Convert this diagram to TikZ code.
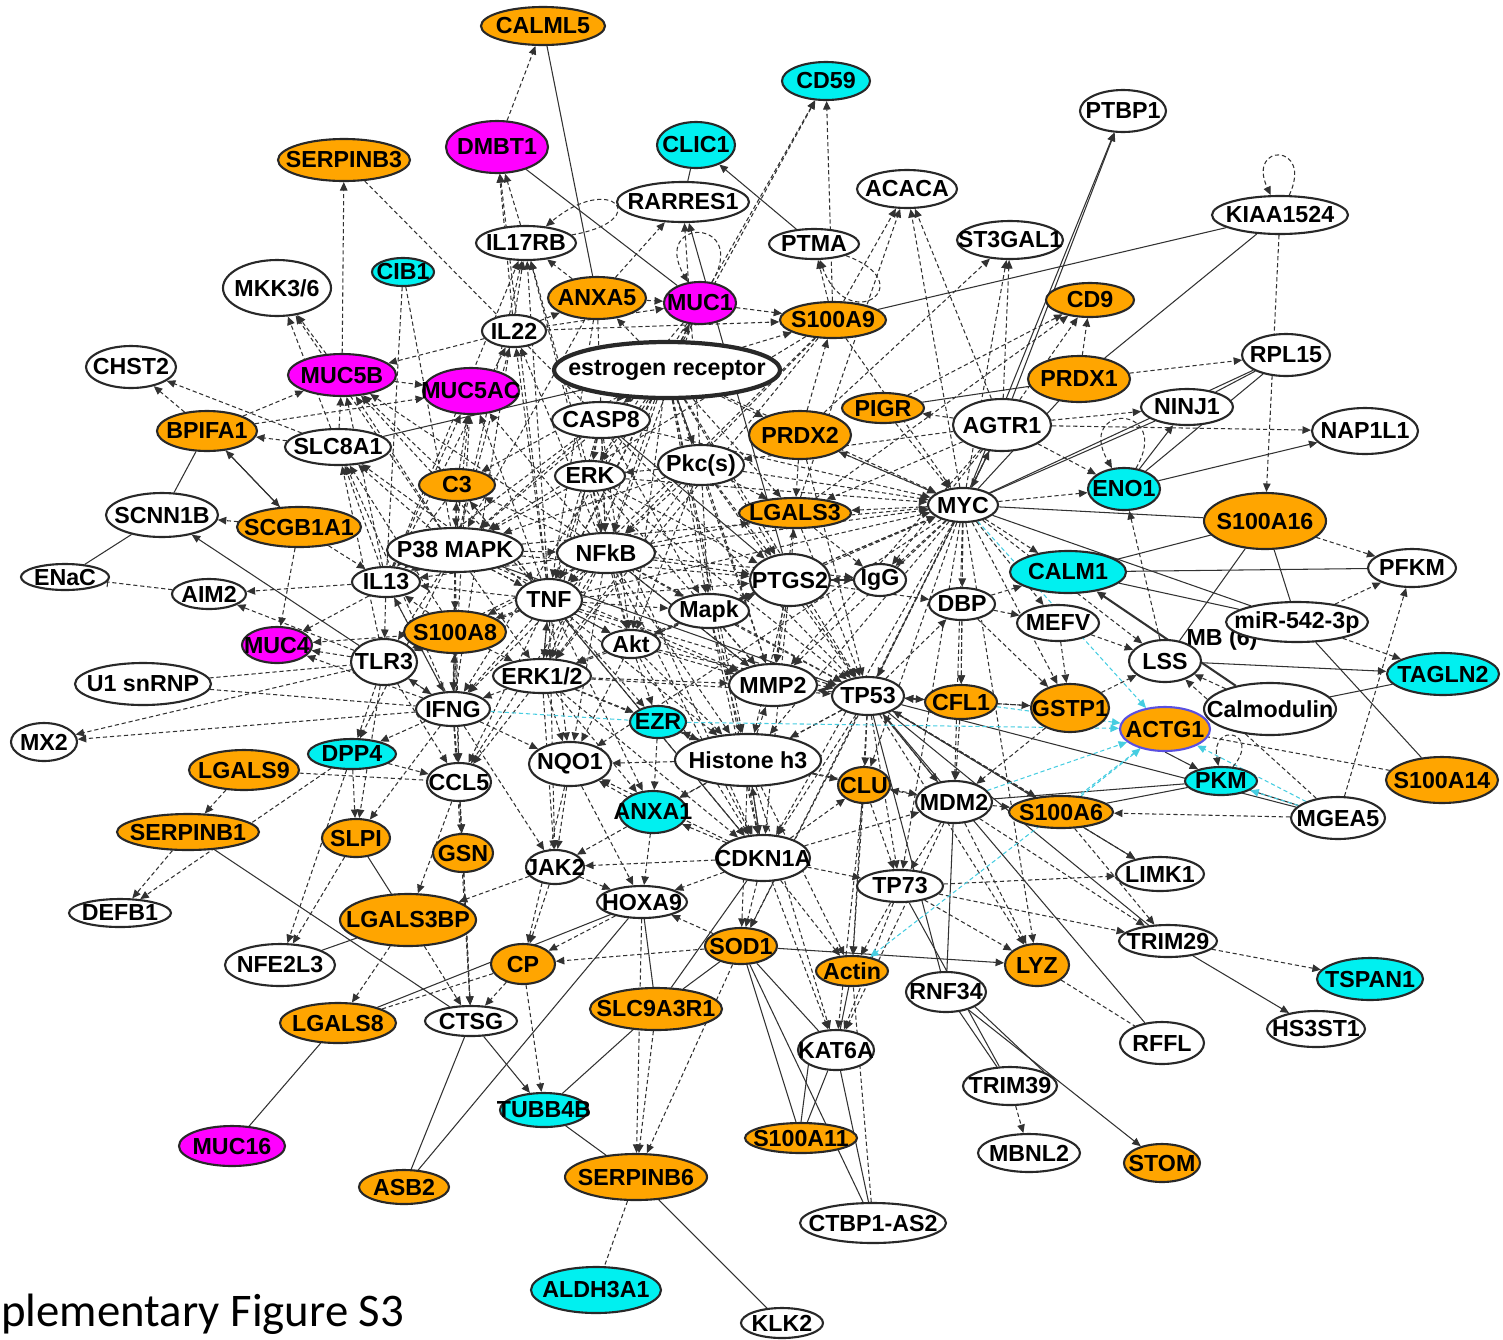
\documentclass[tikz,border=0pt]{standalone}
\usepackage{fontspec}
\setmainfont{Liberation Sans}
\newfontfamily\capfont{Carlito}
\usetikzlibrary{
  arrows.meta,
  shapes.geometric
}
\definecolor{geneorange}{RGB}{255,165,0}
\definecolor{genemagenta}{RGB}{255,0,255}
\definecolor{genecyan}{RGB}{0,240,240}
\definecolor{geneline}{RGB}{40,40,40}
\definecolor{linkgray}{RGB}{50,50,50}
\definecolor{linkcyan}{RGB}{70,205,225}
\definecolor{actgblue}{RGB}{90,80,225}
\newcommand\genefont{\bfseries\fontsize{6.6}{7.5}\selectfont}
\pgfdeclarelayer{background}
\pgfsetlayers{background,main}
\tikzset{
  gene/.style={
    ellipse,
    draw=geneline,
    line width=0.6pt,
    inner xsep=-6pt,
    inner ysep=-1pt,
    font=\genefont
  },
  geneWhite/.style={gene, fill=white},
  geneOrange/.style={gene, fill=geneorange},
  geneMagenta/.style={gene, fill=genemagenta},
  geneCyan/.style={gene, fill=genecyan},
  sz/.style 2 args={
    minimum width=#1*0.01cm,
    minimum height=#2*0.01cm
  },
  linkDash/.style={
    -{Triangle[length=0.85mm,width=0.75mm]},
    draw=linkgray,
    line width=0.3pt,
    dash pattern=on 1.2pt off 0.8pt
  },
  linkArrow/.style={
    -{Triangle[length=0.85mm,width=0.75mm]},
    draw=linkgray,
    line width=0.3pt
  },
  linkLine/.style={draw=linkgray, line width=0.3pt},
  linkDashLine/.style={
    draw=linkgray,
    line width=0.3pt,
    dash pattern=on 1.2pt off 0.8pt
  },
  linkCyan/.style={linkDash, draw=linkcyan}
}

\begin{document}
\begin{tikzpicture}[x=0.01cm, y=-0.01cm]
  \useasboundingbox (0,0) rectangle (1503,1339);

  % genes
  \node[geneOrange, sz={124}{38}] (calml5) at (543,26) {CALML5};
  \node[geneCyan, sz={88}{38}] (cd59) at (826,81) {CD59};
  \node[geneMagenta, sz={102}{52}] (dmbt1) at (497,147) {DMBT1};
  \node[geneCyan, sz={78}{46}] (clic1) at (696,145) {CLIC1};
  \node[geneOrange, sz={132}{42}] (serpinb3) at (344,160) {SERPINB3};
  \node[geneWhite, sz={86}{42}] (ptbp1) at (1123,111) {PTBP1};
  \node[geneWhite, sz={132}{40}] (rarres1) at (683,202) {RARRES1};
  \node[geneWhite, sz={100}{38}] (acaca) at (907,189) {ACACA};
  \node[geneWhite, sz={136}{38}] (kiaa) at (1280,215) {KIAA1524};
  \node[geneWhite, sz={100}{34}] (il17rb) at (526,243) {IL17RB};
  \node[geneWhite, sz={90}{30}] (ptma) at (814,244) {PTMA};
  \node[geneWhite, sz={106}{38}] (st3gal1) at (1010,240) {ST3GAL1};
  \node[geneCyan, sz={62}{28}] (cib1) at (403,272) {CIB1};
  \node[geneWhite, sz={108}{56}] (mkk) at (277,288) {MKK3/6};
  \node[geneOrange, sz={98}{42}] (anxa5) at (597,298) {ANXA5};
  \node[geneMagenta, sz={72}{42}] (muc1) at (700,303) {MUC1};
  \node[geneOrange, sz={88}{34}] (cd9) at (1090,300) {CD9};
  \node[geneOrange, sz={106}{36}] (s100a9) at (833,320) {S100A9};
  \node[geneWhite, sz={64}{32}] (il22) at (514,331) {IL22};
  \node[geneWhite, sz={90}{42}] (chst2) at (131,367) {CHST2};
  \node[geneMagenta, sz={108}{42}] (muc5b) at (342,375) {MUC5B};
  \node[geneWhite, sz={226}{56}, line width=1.2pt] (er) at (667,370) {estrogen receptor};
  \node[geneMagenta, sz={96}{46}] (muc5ac) at (471,391) {MUC5AC};
  \node[geneOrange, sz={102}{46}] (prdx1) at (1079,379) {PRDX1};
  \node[geneWhite, sz={88}{42}] (rpl15) at (1286,355) {RPL15};
  \node[geneOrange, sz={100}{40}] (bpifa1) at (207,431) {BPIFA1};
  \node[geneWhite, sz={106}{36}] (slc8a1) at (338,447) {SLC8A1};
  \node[geneWhite, sz={98}{36}] (casp8) at (601,420) {CASP8};
  \node[geneOrange, sz={82}{30}] (pigr) at (883,408) {PIGR};
  \node[geneOrange, sz={102}{48}] (prdx2) at (800,435) {PRDX2};
  \node[geneWhite, sz={98}{52}] (agtr1) at (1002,425) {AGTR1};
  \node[geneWhite, sz={92}{36}] (ninj1) at (1187,407) {NINJ1};
  \node[geneWhite, sz={106}{46}] (nap1l1) at (1365,431) {NAP1L1};
  \node[geneWhite, sz={70}{30}] (erk) at (590,476) {ERK};
  \node[geneWhite, sz={86}{40}] (pkcs) at (701,465) {Pkc(s)};
  \node[geneOrange, sz={76}{32}] (c3) at (457,485) {C3};
  \node[geneWhite, sz={112}{44}] (scnn1b) at (162,515) {SCNN1B};
  \node[geneOrange, sz={124}{40}] (scgb1a1) at (299,527) {SCGB1A1};
  \node[geneOrange, sz={112}{30}] (lgals3) at (795,513) {LGALS3};
  \node[geneWhite, sz={70}{34}] (myc) at (963,505) {MYC};
  \node[geneCyan, sz={72}{42}] (eno1) at (1124,489) {ENO1};
  \node[geneOrange, sz={122}{56}] (s100a16) at (1265,521) {S100A16};
  \node[geneWhite, sz={136}{44}] (p38) at (455,550) {P38 MAPK};
  \node[geneWhite, sz={98}{40}] (nfkb) at (606,553) {NFkB};
  \node[geneWhite, sz={88}{26}] (enac) at (65,577) {ENaC};
  \node[geneWhite, sz={74}{30}] (aim2) at (209,594) {AIM2};
  \node[geneWhite, sz={68}{30}] (il13) at (386,582) {IL13};
  \node[geneWhite, sz={66}{42}] (tnf) at (549,600) {TNF};
  \node[geneWhite, sz={80}{52}] (ptgs2) at (790,580) {PTGS2};
  \node[geneWhite, sz={52}{32}] (igg) at (880,580) {IgG};
  \node[geneCyan, sz={116}{42}] (calm1) at (1068,572) {CALM1};
  \node[geneWhite, sz={88}{38}] (pfkm) at (1412,568) {PFKM};
  \node[geneWhite, sz={66}{32}] (dbp) at (962,604) {DBP};
  \node[geneWhite, sz={80}{34}] (mapk) at (709,611) {Mapk};
  \node[geneOrange, sz={102}{42}] (s100a8) at (455,632) {S100A8};
  \node[geneMagenta, sz={70}{36}] (muc4) at (277,645) {MUC4};
  \node[geneWhite, sz={82}{36}] (mefv) at (1058,623) {MEFV};
  \node[font=\genefont] (mb) at (1222,639) {MB (6)};
  \node[geneWhite, sz={142}{40}] (mir) at (1297,622) {miR-542-3p};
  \node[geneWhite, sz={58}{28}] (akt) at (631,644) {Akt};
  \node[geneWhite, sz={66}{46}] (tlr3) at (384,662) {TLR3};
  \node[geneWhite, sz={136}{42}] (u1) at (143,684) {U1 snRNP};
  \node[geneWhite, sz={72}{42}] (lss) at (1165,661) {LSS};
  \node[geneCyan, sz={112}{42}] (tagln2) at (1443,674) {TAGLN2};
  \node[geneWhite, sz={98}{34}] (erk12) at (542,676) {ERK1/2};
  \node[geneWhite, sz={88}{42}] (mmp2) at (773,685) {MMP2};
  \node[geneWhite, sz={72}{38}] (tp53) at (868,696) {TP53};
  \node[geneOrange, sz={72}{34}] (cfl1) at (961,702) {CFL1};
  \node[geneOrange, sz={78}{48}] (gstp1) at (1070,708) {GSTP1};
  \node[geneWhite, sz={132}{52}] (calmod) at (1270,709) {Calmodulin};
  \node[geneWhite, sz={74}{34}] (ifng) at (453,709) {IFNG};
  \node[geneCyan, sz={56}{32}] (ezr) at (658,722) {EZR};
  \node[geneOrange, sz={90}{44}, draw=actgblue] (actg1) at (1165,729) {ACTG1};
  \node[geneWhite, sz={66}{38}] (mx2) at (44,742) {MX2};
  \node[geneCyan, sz={88}{30}] (dpp4) at (352,754) {DPP4};
  \node[geneWhite, sz={146}{52}] (histone) at (748,760) {Histone h3};
  \node[geneOrange, sz={110}{40}] (lgals9) at (244,770) {LGALS9};
  \node[geneWhite, sz={64}{38}] (ccl5) at (459,782) {CCL5};
  \node[geneWhite, sz={82}{44}] (nqo1) at (570,764) {NQO1};
  \node[geneOrange, sz={52}{36}] (clu) at (864,785) {CLU};
  \node[geneCyan, sz={72}{28}] (pkm) at (1221,781) {PKM};
  \node[geneOrange, sz={112}{46}] (s100a14) at (1442,780) {S100A14};
  \node[geneWhite, sz={76}{42}] (mdm2) at (954,802) {MDM2};
  \node[geneOrange, sz={104}{32}] (s100a6) at (1061,812) {S100A6};
  \node[geneWhite, sz={94}{42}] (mgea5) at (1338,818) {MGEA5};
  \node[geneOrange, sz={142}{36}] (serpinb1) at (188,832) {SERPINB1};
  \node[geneOrange, sz={68}{38}] (slpi) at (356,838) {SLPI};
  \node[geneCyan, sz={68}{42}] (anxa1) at (653,812) {ANXA1};
  \node[geneOrange, sz={60}{38}] (gsn) at (463,853) {GSN};
  \node[geneWhite, sz={58}{34}] (jak2) at (555,867) {JAK2};
  \node[geneWhite, sz={94}{46}] (cdkn1a) at (763,858) {CDKN1A};
  \node[geneWhite, sz={88}{34}] (limk1) at (1160,874) {LIMK1};
  \node[geneWhite, sz={86}{32}] (tp73) at (900,886) {TP73};
  \node[geneWhite, sz={102}{28}] (defb1) at (120,913) {DEFB1};
  \node[geneWhite, sz={90}{32}] (hoxa9) at (642,902) {HOXA9};
  \node[geneOrange, sz={136}{52}] (lgals3bp) at (408,920) {LGALS3BP};
  \node[geneWhite, sz={98}{32}] (trim29) at (1168,941) {TRIM29};
  \node[geneCyan, sz={106}{42}] (tspan1) at (1370,979) {TSPAN1};
  \node[geneWhite, sz={110}{42}] (nfe2l3) at (280,965) {NFE2L3};
  \node[geneOrange, sz={64}{40}] (cp) at (523,964) {CP};
  \node[geneOrange, sz={72}{36}] (sod1) at (741,946) {SOD1};
  \node[geneOrange, sz={72}{30}] (actin) at (852,971) {Actin};
  \node[geneOrange, sz={64}{42}] (lyz) at (1037,965) {LYZ};
  \node[geneWhite, sz={80}{40}] (rnf34) at (946,992) {RNF34};
  \node[geneWhite, sz={84}{42}] (rffl) at (1162,1043) {RFFL};
  \node[geneWhite, sz={98}{36}] (hs3st1) at (1316,1029) {HS3ST1};
  \node[geneOrange, sz={116}{40}] (lgals8) at (338,1023) {LGALS8};
  \node[geneWhite, sz={92}{30}] (ctsg) at (471,1021) {CTSG};
  \node[geneOrange, sz={132}{42}] (slc9a3r1) at (656,1009) {SLC9A3R1};
  \node[geneWhite, sz={76}{40}] (kat6a) at (836,1050) {KAT6A};
  \node[geneWhite, sz={94}{38}] (trim39) at (1010,1086) {TRIM39};
  \node[geneCyan, sz={88}{34}] (tubb4b) at (544,1110) {TUBB4B};
  \node[geneMagenta, sz={106}{40}] (muc16) at (232,1146) {MUC16};
  \node[geneOrange, sz={112}{30}] (s100a11) at (801,1138) {S100A11};
  \node[geneWhite, sz={102}{38}] (mbnl2) at (1029,1153) {MBNL2};
  \node[geneOrange, sz={76}{38}] (stom) at (1162,1163) {STOM};
  \node[geneOrange, sz={90}{34}] (asb2) at (404,1187) {ASB2};
  \node[geneOrange, sz={142}{46}] (serpinb6) at (636,1177) {SERPINB6};
  \node[geneWhite, sz={146}{40}] (ctbp1) at (873,1223) {CTBP1-AS2};
  \node[geneCyan, sz={130}{46}] (aldh3a1) at (596,1290) {ALDH3A1};
  \node[geneWhite, sz={82}{30}] (klk2) at (782,1323) {KLK2};

  \node[font=\capfont\fontsize{13.3}{16}\selectfont, anchor=base west] (caption) at (-11,1326) {plementary Figure S3};

  \begin{pgfonlayer}{background}
  % outer links
  \foreach \a/\b in {dmbt1/calml5, il17rb/dmbt1, il22/dmbt1, tnf/dmbt1, muc5b/serpinb3,
      anxa5/rarres1, pkcs/rarres1, muc1/cd59, s100a9/cd59, er/cd59, s100a9/ptma,
      s100a9/acaca, myc/acaca, agtr1/acaca, lgals3/acaca, agtr1/st3gal1, myc/st3gal1,
      prdx2/st3gal1, kiaa/s100a16, prdx1/cd9, agtr1/cd9, pigr/cd9, lgals3/cd9,
      prdx1/rpl15, agtr1/ninj1, agtr1/nap1l1, agtr1/pigr, prdx2/s100a9, il22/s100a9,
      muc1/s100a9, il22/anxa5, il22/muc1, anxa5/muc1, er/muc1, er/anxa5, tnf/il22,
      nfkb/il22, p38/il22, il13/il22, il22/muc5b, ifng/il17rb, tnf/il17rb, nfkb/il17rb,
      p38/il17rb, il13/il17rb, erk/il17rb, p38/mkk, slc8a1/mkk, muc5b/mkk, anxa5/il17rb}
    \draw[linkDash] (\a) -- (\b);
  \foreach \a/\b in {bpifa1/chst2, slc8a1/chst2, bpifa1/muc5b, bpifa1/muc5ac,
      slc8a1/bpifa1, scgb1a1/scnn1b, il13/aim2, tlr3/aim2, tlr3/muc4, s100a8/muc4,
      ifng/muc4, p38/muc4, scgb1a1/muc4, ifng/mx2, tlr3/mx2, scgb1a1/il13, p38/muc5b,
      il13/muc5b, tnf/muc5b, nfkb/muc5b, slc8a1/muc5b, c3/muc5b, p38/muc5ac,
      il13/muc5ac, c3/muc5ac, tnf/muc5ac, nfkb/muc5ac, ifng/muc5ac, muc5b/muc5ac,
      il13/slc8a1, p38/slc8a1, tnf/slc8a1, tlr3/slc8a1, s100a8/slc8a1, ifng/slc8a1}
    \draw[linkDash] (\a) -- (\b);
  \foreach \a/\b in {lgals9/serpinb1, serpinb1/defb1, dpp4/defb1, dpp4/slpi, ifng/slpi,
      tlr3/slpi, slpi/nfe2l3, dpp4/nfe2l3, lgals3bp/lgals8, lgals3bp/ctsg, cp/ctsg,
      gsn/ctsg, ccl5/ctsg, ifng/ctsg, cp/tubb4b, hoxa9/cp, jak2/cp, nqo1/cp, sod1/cp,
      sod1/serpinb6, hoxa9/serpinb6, ifng/dpp4, tlr3/dpp4, dpp4/ccl5, ifng/ccl5,
      tlr3/ccl5, s100a8/ccl5, tnf/ccl5, nfkb/ccl5, ccl5/gsn, ifng/gsn, jak2/lgals3bp,
      anxa1/jak2, nqo1/jak2, tnf/jak2, ifng/jak2, erk12/jak2, slc9a3r1/serpinb6,
      p38/dpp4, ccl5/lgals3bp}
    \draw[linkDash] (\a) -- (\b);
  \foreach \a/\b in {trim39/mbnl2, trim29/tspan1, tp73/limk1, tp53/lyz, mdm2/lyz,
      tp73/lyz, tp73/trim29, mdm2/trim29, s100a6/trim29, tp53/limk1, tp73/kat6a,
      cdkn1a/kat6a, histone/kat6a, cdkn1a/actin, tp73/actin, histone/actin, tp53/actin,
      cdkn1a/sod1, histone/sod1, tp53/sod1, sod1/hoxa9, cdkn1a/hoxa9, mdm2/kat6a,
      clu/actin, clu/kat6a, clu/tp73, myc/lyz}
    \draw[linkDash] (\a) -- (\b);
  \foreach \a/\b in {s100a16/pfkm, mir/pfkm, mgea5/pfkm, mir/tagln2, mgea5/s100a6,
      mgea5/lss, calmod/lss, myc/eno1, agtr1/eno1, lss/eno1, myc/calm1, dbp/calm1,
      dbp/mefv, mefv/gstp1, dbp/gstp1, dbp/cfl1, myc/lss, mefv/lss, gstp1/lss,
      cfl1/tp53, gstp1/tp53, myc/mefv, gstp1/mdm2, cfl1/mdm2}
    \draw[linkDash] (\a) -- (\b);

  % hub links
  \foreach \a/\b in {er/casp8, er/erk, er/nfkb, er/p38, er/tnf, er/mapk, er/ptgs2,
      er/myc, er/tp53, er/cdkn1a, er/histone, er/mmp2, er/lgals3, er/akt, er/erk12,
      er/prdx2, er/pkcs, er/s100a9, er/c3, er/il13, er/ifng, casp8/erk, casp8/tnf,
      casp8/nfkb, casp8/p38, casp8/myc, casp8/tp53, casp8/akt, casp8/erk12, casp8/mapk,
      erk/nfkb, erk/tnf, erk/p38, erk/myc, erk/ptgs2, erk/mmp2, erk/cdkn1a, erk/akt,
      erk/tp53, pkcs/nfkb, pkcs/erk, pkcs/mapk, pkcs/ptgs2, pkcs/myc, pkcs/mmp2,
      pkcs/tp53, pkcs/erk12, pkcs/p38, pkcs/akt, pkcs/lgals3}
    \draw[linkDash] (\a) -- (\b);
  \foreach \a/\b in {p38/nfkb, p38/tnf, p38/il13, p38/s100a8, p38/ifng, p38/erk12,
      p38/akt, p38/ptgs2, p38/mmp2, p38/tlr3, p38/c3, p38/ccl5, p38/myc, nfkb/tnf,
      nfkb/mapk, nfkb/akt, nfkb/erk12, nfkb/ptgs2, nfkb/ifng, nfkb/s100a8, nfkb/il13,
      nfkb/tlr3, nfkb/myc, nfkb/tp53, nfkb/cdkn1a, nfkb/histone, nfkb/mmp2, nfkb/nqo1,
      nfkb/lgals3, nfkb/c3, nfkb/igg, tnf/akt, tnf/erk12, tnf/ifng, tnf/s100a8,
      tnf/il13, tnf/tlr3, tnf/mapk, tnf/ptgs2, tnf/mmp2, tnf/tp53, tnf/cdkn1a,
      tnf/nqo1, tnf/histone, tnf/c3, tnf/ezr, tnf/anxa1, tnf/myc}
    \draw[linkDash] (\a) -- (\b);
  \foreach \a/\b in {mapk/akt, mapk/mmp2, mapk/ptgs2, mapk/tp53, mapk/myc,
      mapk/cdkn1a, mapk/erk12, mapk/histone, akt/erk12, akt/mmp2, akt/tp53,
      akt/cdkn1a, akt/myc, akt/nqo1, akt/ezr, akt/histone, akt/ptgs2, erk12/ifng,
      erk12/nqo1, erk12/ezr, erk12/cdkn1a, erk12/mmp2, erk12/tp53, erk12/histone,
      erk12/anxa1, erk12/ccl5, ifng/tlr3, ifng/s100a8, ifng/il13, ifng/nqo1,
      ptgs2/igg, igg/ptgs2, ptgs2/myc, ptgs2/tp53, ptgs2/mmp2, ptgs2/cdkn1a,
      ptgs2/lgals3, ptgs2/dbp, ptgs2/histone}
    \draw[linkDash] (\a) -- (\b);
  \foreach \a/\b in {myc/tp53, myc/cdkn1a, myc/igg, myc/dbp, myc/mmp2, myc/lgals3,
      myc/clu, myc/mdm2, myc/histone, myc/cfl1, myc/gstp1, myc/prdx2, myc/tp73,
      myc/sod1, myc/nqo1, tp53/cdkn1a, tp53/mdm2, tp53/clu, tp53/histone, tp53/mmp2,
      tp53/tp73, tp53/dbp, tp53/cfl1, tp53/gstp1, tp53/anxa1, tp53/s100a6,
      cdkn1a/histone, cdkn1a/anxa1, cdkn1a/mdm2, cdkn1a/tp73, cdkn1a/clu, cdkn1a/jak2,
      cdkn1a/nqo1, histone/anxa1, histone/ezr, histone/nqo1, histone/clu,
      histone/mdm2, histone/mmp2, mdm2/tp73, mdm2/clu, mdm2/s100a6, s100a6/tp53}
    \draw[linkDash] (\a) -- (\b);
  \foreach \a/\b in {lgals3/igg, lgals3/mmp2, lgals3/tp53, prdx2/lgals3, prdx2/myc,
      prdx2/tp53, pigr/myc, agtr1/tp53, agtr1/lgals3, agtr1/pkcs, agtr1/mmp2,
      agtr1/igg, s100a9/myc, s100a9/tnf, s100a9/nfkb, s100a9/p38, s100a9/erk12,
      anxa5/nfkb, anxa5/tnf, anxa5/p38, muc1/nfkb, muc1/tnf, muc1/erk, muc1/casp8,
      c3/p38, c3/il13, c3/tnf, s100a8/il13, s100a8/tlr3, s100a8/ifng, s100a8/erk12,
      il13/tlr3, tlr3/ifng, il13/ifng, anxa1/nqo1, anxa1/hoxa9, ezr/anxa1,
      nqo1/hoxa9, jak2/hoxa9}
    \draw[linkDash] (\a) -- (\b);

  % solid arrows
  \foreach \a/\b in {ptma/clic1, ptgs2/rarres1, agtr1/ptbp1, myc/ptbp1, eno1/ninj1,
      eno1/nap1l1, scgb1a1/bpifa1, bpifa1/scgb1a1, tlr3/scnn1b, ctsg/tubb4b,
      rnf34/stom, trim29/hs3st1, sod1/lyz, lss/tagln2, agtr1/myc, p38/tp53,
      tnf/cdkn1a, nfkb/mmp2, er/pkcs, casp8/ptgs2, tp53/limk1, mdm2/tp53,
      histone/cdkn1a, myc/agtr1, ptgs2/mapk, erk12/tnf}
    \draw[linkArrow] (\a) -- (\b);
  \draw[linkArrow] (actg1.south) -- (pkm);
  \draw[-{Triangle[length=0.9mm,width=0.8mm]}, draw=linkgray, line width=0.6pt]
    (calmod) -- (calm1);
  \draw[linkDash, -{Bar[width=1mm]}] (aim2) -- (enac);

  % plain lines
  \foreach \a/\b in {anxa5/calml5, dmbt1/muc1, rarres1/clic1, s100a9/kiaa,
      prdx1/kiaa, eno1/rpl15, ninj1/rpl15, pigr/prdx1, bpifa1/scnn1b, scnn1b/enac,
      serpinb1/ctsg, slpi/lgals3bp, lgals3bp/nfe2l3, lgals8/muc16, lgals8/hoxa9,
      ctsg/asb2, asb2/hoxa9, tubb4b/serpinb6, tubb4b/slc9a3r1, serpinb6/klk2,
      hoxa9/slc9a3r1, slc9a3r1/cdkn1a, actin/kat6a, kat6a/s100a11, s100a11/sod1,
      ctbp1/kat6a, ctbp1/sod1, rnf34/trim39, tp53/rffl, calm1/pfkm, calmod/tagln2,
      mir/s100a14, s100a16/mir, s100a16/lss, mgea5/pkm, pkm/s100a6, pkm/mdm2,
      calm1/s100a16, mir/calm1, mir/myc, mgea5/tp53, rpl15/myc, s100a16/myc,
      prdx1/myc, ninj1/myc, mdm2/rnf34, tp53/rnf34, tp73/trim39, kat6a/sod1,
      slc9a3r1/sod1, tp53/trim29, slc8a1/er}
    \draw[linkLine] (\a) -- (\b);
  \draw[linkLine] (kat6a.south west) -- (s100a11.north);
  \draw[linkLine] (rnf34.south east) -- (trim39.north east);

  % dashed lines
  \foreach \a/\b in {serpinb3/casp8, u1/tlr3, u1/ifng, lyz/rffl, serpinb6/aldh3a1,
      ctbp1/actin, s100a14/actg1, lgals9/ccl5, cib1/p38, cib1/il13, lgals8/cp}
    \draw[linkDashLine] (\a) -- (\b);

  % cyan links
  \foreach \a/\b in {mgea5/actg1, myc/actg1, ezr/actg1, s100a6/actg1, mdm2/actg1,
      cfl1/actg1, actg1/actin, mgea5/pkm}
    \draw[linkCyan] (\a) -- (\b);
  \draw[linkDashLine, draw=linkcyan] (ifng) -- (ezr);

  % loops
  \draw[linkDash] (kiaa) to[out=65, in=115, looseness=8, min distance=4mm] (kiaa);
  \draw[linkDash] (eno1) to[out=60, in=120, looseness=8, min distance=4mm] (eno1);
  \draw[linkDash] (muc1) to[out=60, in=120, looseness=8, min distance=4mm] (muc1);
  \draw[linkDash] (pkm) to[out=50, in=100, looseness=8, min distance=4mm] (pkm);
  \draw[linkDash] (ptma) to[out=-20, in=-70, looseness=8, min distance=4mm] (ptma);
  \draw[linkDash] (il17rb) to[out=10, in=40, looseness=8, min distance=4mm] (il17rb);
  \end{pgfonlayer}
\end{tikzpicture}
\end{document}
